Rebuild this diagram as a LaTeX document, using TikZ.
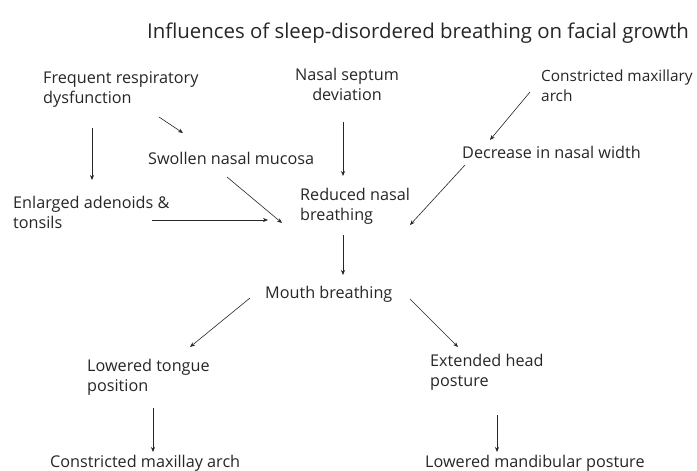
\documentclass[tikz,border=0pt]{standalone}
\usepackage{fontspec}
\setmainfont{Open Sans}
\usetikzlibrary{arrows.meta}
\begin{document}
\begin{tikzpicture}[x=1pt,y=-1pt,
  lbl/.style={anchor=west,inner sep=0pt,align=left,font=\fontsize{16.2}{20}\selectfont,text=black!85},
  arr/.style={-{Stealth[length=5pt,width=4pt]},line width=0.6pt,draw=black!85}]
\useasboundingbox (0,0) rectangle (697,471);
\node[anchor=center,inner sep=0pt,font=\fontsize{20.4}{24}\selectfont,text=black!85] (title) at (418,33) {Influences of sleep-disordered breathing on facial growth};
\node[lbl] (fr) at (43,89.5) {Frequent respiratory\\dysfunction};
\node[lbl,anchor=center,align=center] (ns) at (347,84.5) {Nasal septum\\deviation};
\node[lbl,font=\fontsize{15.4}{20}\selectfont] (cm) at (541,85.5) {Constricted maxillary\\arch};
\node[lbl] (sw) at (148,158) {Swollen nasal mucosa};
\node[lbl] (dn) at (462,152) {Decrease in nasal width};
\node[lbl] (en) at (13,212.5) {Enlarged adenoids \&\\tonsils};
\node[lbl] (rn) at (300,206) {Reduced nasal\\breathing};
\node[lbl] (mb) at (265,294) {Mouth breathing};
\node[lbl] (lt) at (87,377) {Lowered tongue\\position};
\node[lbl] (eh) at (430,372) {Extended head\\posture};
\node[lbl] (ca) at (50,463) {Constricted maxillay arch};
\node[lbl] (lm) at (425,463) {Lowered mandibular posture};
% arrows
\draw[arr] ([shift={(49,38.5)}]fr.west) -- ([shift={(79,-32.5)}]en.west);
\draw[arr] ([shift={(116,27.5)}]fr.west) -- ([shift={(35,-25)}]sw.west);
\draw[arr] ([shift={(-4,37.5)}]ns.center) -- ([shift={(43,-30)}]rn.west);
\draw[arr] ([shift={(-11,6.5)}]cm.west) -- ([shift={(28,-12)}]dn.west);
\draw[arr] ([shift={(79,19)}]sw.west) -- ([shift={(-18,17)}]rn.west);
\draw[arr] ([shift={(139,7.5)}]en.west) -- ([shift={(-32,14)}]rn.west);
\draw[arr] ([shift={(3,13)}]dn.west) -- ([shift={(110,19)}]rn.west);
\draw[arr] ([shift={(43,29)}]rn.west) -- ([shift={(78,-19)}]mb.west);
\draw[arr] ([shift={(-15,4)}]mb.west) -- ([shift={(103,-30)}]lt.west);
\draw[arr] ([shift={(145,5)}]mb.west) -- ([shift={(28,-25)}]eh.west);
\draw[arr] ([shift={(66,31)}]lt.west) -- ([shift={(103,-11)}]ca.west);
\draw[arr] ([shift={(67,43)}]eh.west) -- ([shift={(72,-11)}]lm.west);
\end{tikzpicture}
\end{document}
